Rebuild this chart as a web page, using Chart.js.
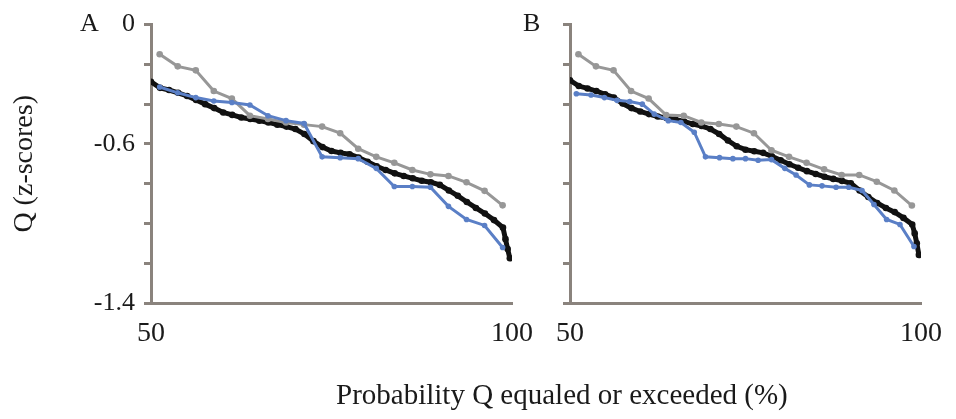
<!DOCTYPE html>
<html>
<head>
<meta charset="utf-8">
<script src="https://cdn.jsdelivr.net/npm/chart.js@4.4.0/dist/chart.umd.min.js"></script>
<style>
  body { margin: 0; background: #fff; width: 956px; height: 419px; overflow: hidden; position: relative; font-family: 'Liberation Serif', 'Times New Roman', serif; }
  #wrapA { position: absolute; left: 0; top: 0; }
  #wrapB { position: absolute; left: 460px; top: 0; }
  .panel { position: absolute; top: 10px; font-size: 26px; line-height: 26px; color: #1a1a1a; }
  #xtitle { position: absolute; left: 336px; top: 380px; font-size: 29px; line-height: 29px; color: #1a1a1a; white-space: nowrap; }
</style>
</head>
<body>
<div id="wrapA"><canvas id="chartA" width="550" height="419"></canvas></div>
<div id="wrapB"><canvas id="chartB" width="496" height="419"></canvas></div>
<div class="panel" style="left:80px">A</div>
<div class="panel" style="left:523px">B</div>
<div id="xtitle">Probability Q equaled or exceeded (%)</div>

<script>
'use strict';

// probability (%) positions
var xBlack = [50, 51.25, 52.5, 53.75, 55, 56.25, 57.5, 58.75, 60, 61.25, 62.5, 63.75, 65, 66.25, 67.5, 68.75,
  70, 71.25, 72.5, 73.75, 75, 76.25, 77.5, 78.75, 80, 81.25, 82.5, 83.75, 85, 86.25, 87.5, 88.75,
  90, 91.25, 92.5, 93.75, 95, 96.25, 97.5, 98.75, 99.1, 99.4, 99.7];
var xGray = [51.2, 53.7, 56.2, 58.7, 61.2, 63.7, 66.2, 68.7, 71.2, 73.7, 76.2, 78.7, 81.2, 83.7, 86.2, 88.7, 91.2, 93.7, 96.2, 98.7];
var xBlueA = [51.2, 53.7, 56.2, 58.7, 61.2, 63.7, 66.2, 68.7, 71.2, 73.7, 76.2, 78.7, 81.2, 83.7, 86.2, 88.7, 91.2, 93.7, 96.2, 98.7];
var xBlueB = [50.9, 53.0, 54.9, 56.7, 58.5, 60.3, 62.0, 64.0, 65.8, 67.7, 69.3, 71.3, 73.2, 75.0, 76.8, 78.7,
  80.6, 82.2, 84.1, 85.9, 87.9, 89.7, 91.6, 93.3, 95.1, 97.0, 99.0];

// panel A (z-scores)
var blackA = [-0.288, -0.318, -0.329, -0.343, -0.359, -0.379, -0.400, -0.420, -0.442, -0.454, -0.467, -0.475, -0.483, -0.492, -0.503, -0.513,
  -0.525, -0.550, -0.586, -0.616, -0.636, -0.645, -0.652, -0.669, -0.690, -0.712, -0.731, -0.748, -0.761, -0.773, -0.785, -0.793,
  -0.806, -0.834, -0.861, -0.892, -0.922, -0.950, -0.983, -1.021, -1.079, -1.129, -1.175];
var grayA = [-0.149, -0.210, -0.230, -0.334, -0.372, -0.458, -0.475, -0.492, -0.503, -0.513, -0.546, -0.624, -0.665, -0.695, -0.731, -0.753, -0.761, -0.793, -0.836, -0.909];
var blueA = [-0.314, -0.343, -0.367, -0.384, -0.392, -0.404, -0.458, -0.483, -0.497, -0.665, -0.669, -0.674, -0.723, -0.814, -0.814, -0.818, -0.914, -0.980, -1.010, -1.121];

// panel B
var blackB = [-0.280, -0.309, -0.321, -0.334, -0.351, -0.367, -0.397, -0.420, -0.437, -0.450, -0.462, -0.470, -0.477, -0.487, -0.500, -0.510,
  -0.525, -0.550, -0.583, -0.612, -0.629, -0.637, -0.645, -0.662, -0.682, -0.702, -0.720, -0.737, -0.751, -0.765, -0.776, -0.786,
  -0.798, -0.834, -0.867, -0.897, -0.922, -0.943, -0.972, -1.005, -1.050, -1.100, -1.158];
var grayB = [-0.149, -0.210, -0.230, -0.334, -0.372, -0.455, -0.458, -0.492, -0.500, -0.513, -0.546, -0.632, -0.665, -0.695, -0.728, -0.756, -0.756, -0.790, -0.834, -0.910];
var blueB = [-0.348, -0.354, -0.367, -0.381, -0.387, -0.400, -0.450, -0.483, -0.492, -0.541, -0.665, -0.669, -0.674, -0.674, -0.682, -0.679,
  -0.723, -0.756, -0.806, -0.811, -0.818, -0.818, -0.834, -0.905, -0.980, -1.005, -1.116];

var yLabels = [0, -0.6, -1.4];
var xLabels = [50, 100];

var axisColor = '#8a837d';
var fontFam = "'Liberation Serif', 'Times New Roman', serif";

function toPoints(xs, ys) {
  var pts = [];
  for (var i = 0; i < ys.length; i++) {
    pts.push({ x: xs[i], y: ys[i] });
  }
  return pts;
}

function makePanel(id, black, gray, blueX, blue, showY, yWidth, rightPad) {
  var ctx = document.getElementById(id).getContext('2d');
  return new Chart(ctx, {
    type: 'line',
    data: {
      datasets: [{
        data: toPoints(blueX, blue),
        borderColor: '#5a7fc6',
        backgroundColor: '#5a7fc6',
        borderWidth: 3,
        pointRadius: 2.8,
        pointBorderWidth: 0
      }, {
        data: toPoints(xGray, gray),
        borderColor: '#979797',
        backgroundColor: '#979797',
        borderWidth: 3,
        pointRadius: 3.3,
        pointBorderWidth: 0
      }, {
        data: toPoints(xBlack, black),
        borderColor: '#111111',
        backgroundColor: '#111111',
        borderWidth: 5,
        pointRadius: 3.3,
        pointBorderWidth: 0
      }]
    },
    options: {
      responsive: false,
      animation: false,
      layout: { padding: { left: 0, top: 21, right: rightPad, bottom: 56 } },
      plugins: { legend: { display: false }, tooltip: { enabled: false } },
      scales: {
        x: {
          type: 'linear',
          min: 50,
          max: 100,
          afterFit: function (scale) { scale.height = 60; },
          border: { display: true, color: axisColor, width: 3 },
          grid: { display: false, drawTicks: false },
          ticks: {
            stepSize: 50,
            padding: 14,
            color: '#1a1a1a',
            font: { family: fontFam, size: 28 },
            callback: function (v) { return xLabels.indexOf(v) >= 0 ? String(v) : ''; }
          }
        },
        y: {
          min: -1.4,
          max: 0,
          afterFit: function (scale) { scale.width = yWidth; },
          border: { display: true, color: axisColor, width: 3 },
          grid: { display: true, drawOnChartArea: false, drawTicks: true, tickLength: 7, color: axisColor, lineWidth: 3 },
          ticks: {
            stepSize: 0.2,
            autoSkip: false,
            padding: 9,
            color: '#1a1a1a',
            font: { family: fontFam, size: 26 },
            callback: function (v) {
              if (!showY) return '';
              for (var i = 0; i < yLabels.length; i++) {
                if (Math.abs(v - yLabels[i]) < 1e-6) return String(yLabels[i]);
              }
              return '';
            }
          },
          title: {
            display: showY,
            text: 'Q (z-scores)',
            color: '#1a1a1a',
            font: { family: fontFam, size: 28 },
            padding: { top: 8, bottom: 0 }
          }
        }
      }
    }
  });
}

makePanel('chartA', blackA, grayA, xBlueA, blueA, true, 151, 38);
makePanel('chartB', blackB, grayB, xBlueB, blueB, false, 110, 24);
</script>
</body>
</html>
